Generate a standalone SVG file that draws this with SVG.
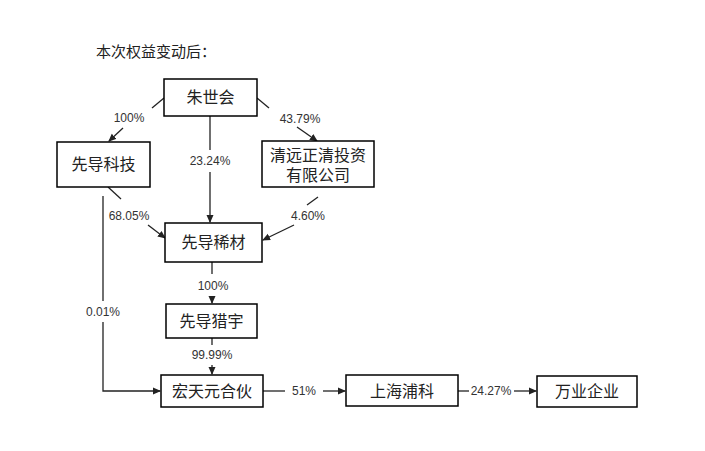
<svg xmlns="http://www.w3.org/2000/svg" width="705" height="451" viewBox="0 0 705 451">
<style>
rect{fill:#fff;stroke:#000;stroke-width:1.5}
.n{font-family:"Liberation Sans","Noto Sans CJK SC",sans-serif;font-size:16px;text-anchor:middle;fill:#222}
.l{font-family:"Liberation Sans","Noto Sans CJK SC",sans-serif;font-size:12px;text-anchor:middle;fill:#333}
line,polyline{stroke:#222;stroke-width:1.3;fill:none}
</style>
<defs><marker id="a" markerWidth="8" markerHeight="8" refX="7" refY="4" orient="auto" markerUnits="userSpaceOnUse"><path d="M0,0.5 L8,4 L0,7.5z" fill="#222"/></marker></defs>
<rect width="705" height="451" style="fill:#fff;stroke:none"/>
<text x="96" y="57" font-family="Liberation Sans,Noto Sans CJK SC,sans-serif" font-size="15" fill="#222">本次权益变动后：</text>
<g id="connectors">
<line x1="164" y1="98" x2="152" y2="108"/><line x1="123" y1="128" x2="109" y2="141" marker-end="url(#a)"/>
<line x1="257" y1="98" x2="269" y2="108"/><line x1="297" y1="127" x2="317" y2="141" marker-end="url(#a)"/>
<line x1="210" y1="116" x2="210" y2="150"/><line x1="210" y1="172" x2="210" y2="222" marker-end="url(#a)"/>
<line x1="108" y1="187" x2="121" y2="199"/><line x1="148" y1="225" x2="165" y2="238" marker-end="url(#a)"/>
<line x1="318" y1="197" x2="307" y2="205"/><line x1="294" y1="225" x2="263" y2="240" marker-end="url(#a)"/>
<line x1="103" y1="196" x2="103" y2="301"/><polyline points="103,322 103,391 160,391" marker-end="url(#a)"/>
<line x1="212" y1="262" x2="212" y2="274"/><line x1="212" y1="296" x2="212" y2="303" marker-end="url(#a)"/>
<line x1="212" y1="338" x2="212" y2="345"/><line x1="212" y1="365" x2="212" y2="374" marker-end="url(#a)"/>
<line x1="263" y1="391" x2="285" y2="391"/><line x1="323" y1="391" x2="345" y2="391" marker-end="url(#a)"/>
<line x1="458" y1="391" x2="469" y2="391"/><line x1="514" y1="391" x2="536" y2="391" marker-end="url(#a)"/>
<text class="l" x="129" y="122">100%</text>
<text class="l" x="300" y="123">43.79%</text>
<text class="l" x="210" y="165">23.24%</text>
<text class="l" x="129" y="220">68.05%</text>
<text class="l" x="308" y="220">4.60%</text>
<text class="l" x="103" y="316">0.01%</text>
<text class="l" x="213" y="290">100%</text>
<text class="l" x="212" y="359">99.99%</text>
<text class="l" x="304" y="395">51%</text>
<text class="l" x="491" y="395">24.27%</text>
</g>
<g id="n1"><rect x="164" y="79" width="93" height="37"/><text class="n" x="210.5" y="103">朱世会</text></g>
<g id="n2"><rect x="57" y="142" width="93" height="45"/><text class="n" x="103.5" y="170">先导科技</text></g>
<g id="n3"><rect x="262" y="141" width="112" height="46"/><text class="n" x="318" y="161">清远正清投资</text><text class="n" x="318" y="181">有限公司</text></g>
<g id="n4"><rect x="165" y="223" width="97" height="39"/><text class="n" x="213.5" y="248">先导稀材</text></g>
<g id="n5"><rect x="166" y="304" width="91" height="34"/><text class="n" x="211.5" y="327">先导猎宇</text></g>
<g id="n6"><rect x="161" y="375" width="102" height="32"/><text class="n" x="212" y="397">宏天元合伙</text></g>
<g id="n7"><rect x="346" y="375" width="112" height="31"/><text class="n" x="402" y="397">上海浦科</text></g>
<g id="n8"><rect x="537" y="376" width="100" height="31"/><text class="n" x="587" y="397">万业企业</text></g>
</svg>
